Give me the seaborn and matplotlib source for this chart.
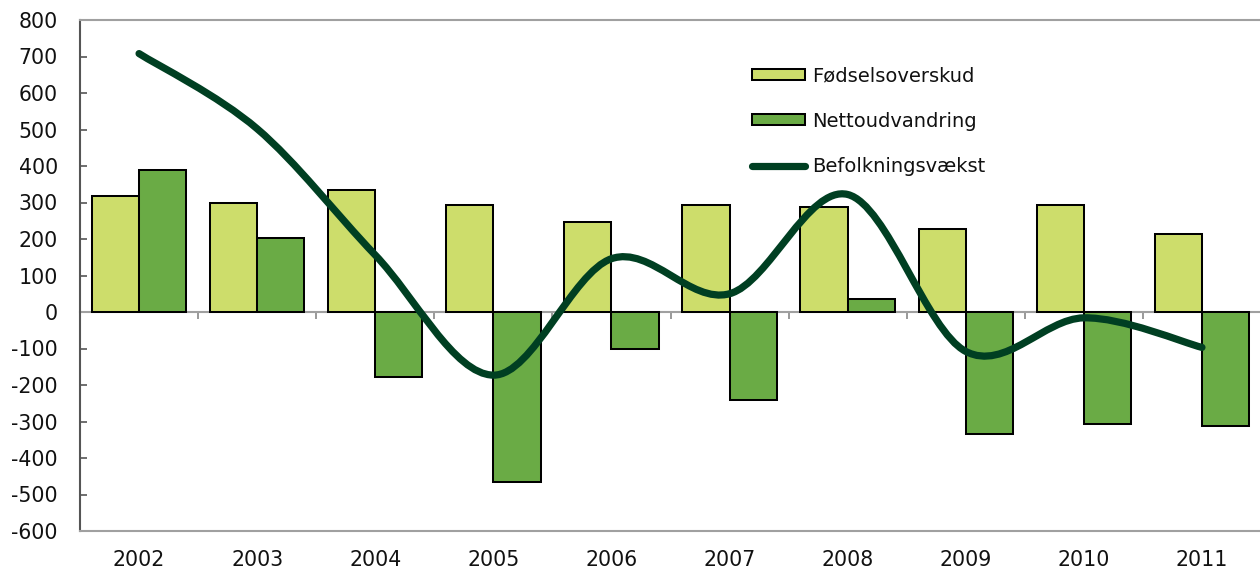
import matplotlib
matplotlib.use("Agg")
import matplotlib.pyplot as plt
from matplotlib.path import Path
from matplotlib.patches import PathPatch, Patch
from matplotlib.lines import Line2D
import seaborn as sns
import pandas as pd
import numpy as np

years = ["2002", "2003", "2004", "2005", "2006", "2007", "2008", "2009", "2010", "2011"]
foedselsoverskud = [318, 300, 333, 293, 246, 292, 287, 227, 292, 215]
nettoudvandring = [390, 202, -177, -466, -100, -242, 35, -335, -308, -312]
befolkningsvaekst = [708, 502, 156, -173, 146, 50, 322, -108, -16, -97]
series_names = ["Fødselsoverskud", "Nettoudvandring", "Befolkningsvækst"]
y_ticks = list(range(-600, 801, 100))

c_light = "#CDDD6B"
c_dark = "#6AAB45"
c_line = "#003F22"

sns.set_theme(style="white")
plt.rcParams["font.family"] = ["DejaVu Sans"]

df = pd.DataFrame({
    "year": years * 2,
    "series": [series_names[0]] * len(years) + [series_names[1]] * len(years),
    "value": foedselsoverskud + nettoudvandring,
})

fig = plt.figure(figsize=(12.6, 5.72), dpi=100)
ax = fig.add_axes([80 / 1260, 41 / 572, 1181 / 1260, 511 / 572])

sns.barplot(data=df, x="year", y="value", hue="series", order=years,
            palette=[c_light, c_dark], saturation=1, edgecolor="black", linewidth=1.45,
            width=0.8, ax=ax, legend=False, zorder=2)

# smoothed line (Bezier through data points, like a spreadsheet "smoothed line")
xs = np.arange(len(years), dtype=float)
ys = np.array(befolkningsvaekst, dtype=float)
pts = np.column_stack([xs, ys])
verts = [tuple(pts[0])]
codes = [Path.MOVETO]
n = len(pts)
for i in range(n - 1):
    p0 = pts[max(i - 1, 0)]
    p1 = pts[i]
    p2 = pts[i + 1]
    p3 = pts[min(i + 2, n - 1)]
    c1 = p1 + (p2 - p0) / 6.0
    c2 = p2 - (p3 - p1) / 6.0
    verts += [tuple(c1), tuple(c2), tuple(p2)]
    codes += [Path.CURVE4] * 3
path = Path(verts, codes)
ax.add_patch(PathPatch(path, facecolor="none", edgecolor=c_line, linewidth=5.2,
                       capstyle="round", joinstyle="round", zorder=4))

ax.set_xlim(-0.5, len(years) - 0.5)
ax.set_ylim(-600, 800)
ax.set_yticks(y_ticks)
ax.set_yticklabels([str(v) for v in y_ticks])
ax.set_xlabel("")
ax.set_ylabel("")

for s in ["top", "bottom"]:
    ax.spines[s].set_color("#A0A0A0")
    ax.spines[s].set_linewidth(1.5)
ax.spines["left"].set_color("#555555")
ax.spines["left"].set_linewidth(1.5)
ax.spines["right"].set_visible(False)

ax.tick_params(axis="y", direction="in", length=5, width=1.2, color="#555555",
               labelsize=14.8, labelcolor="#111111", pad=16, left=True)
ax.tick_params(axis="x", length=0, labelsize=14.8, labelcolor="#111111", pad=14)

# zero line with category tick marks
sec = ax.secondary_xaxis(6 / 14)
sec.spines["bottom"].set_color("#A0A0A0")
sec.spines["bottom"].set_linewidth(1.5)
sec.set_xticks(np.arange(-0.5, len(years), 1.0))
sec.set_xticklabels([])
sec.tick_params(axis="x", direction="out", length=5, width=1.2, color="#888888")
sec.set_zorder(1)

handles = [
    Patch(facecolor=c_light, edgecolor="black", linewidth=1.45),
    Patch(facecolor=c_dark, edgecolor="black", linewidth=1.45),
    Line2D([0], [0], color=c_line, linewidth=5.2, solid_capstyle="round"),
]
leg = ax.legend(handles, series_names, loc="upper left",
                bbox_to_anchor=((744 - 80) / 1181, (531 - 59) / 511),
                frameon=False, fontsize=14, handlelength=2.73, handleheight=0.5,
                handletextpad=0.36, labelspacing=1.34, borderaxespad=0)
for t in leg.get_texts():
    t.set_color("#111111")

fig.savefig("out.png", dpi=100, facecolor="white")
